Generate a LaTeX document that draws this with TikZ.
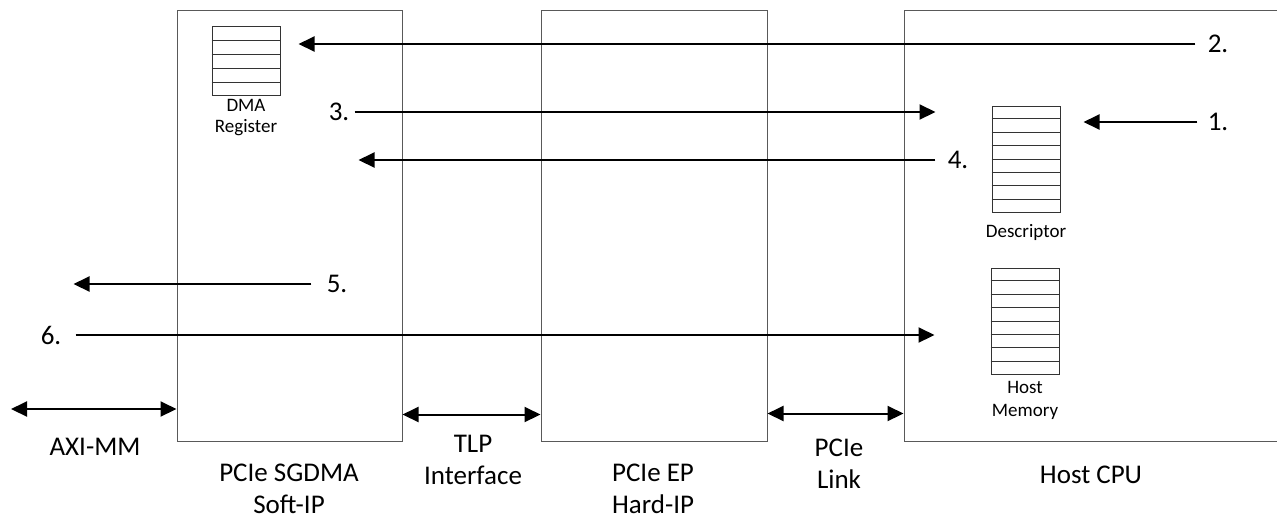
\documentclass[tikz,border=0pt]{standalone}
\usepackage{fontspec}
\setmainfont{Carlito}
\usetikzlibrary{positioning, arrows.meta, calc}

\begin{document}
\begin{tikzpicture}[x=0.5pt, y=-0.5pt,
    % blocks and register stacks
    unit/.style={rectangle, draw=black!65, line width=0.5pt, minimum height=215.5pt, inner sep=0},
    reg/.style={rectangle, draw=black!80, line width=0.5pt, minimum width=34pt, inner sep=0},
    row/.style={draw=black!80, line width=0.5pt},
    % texts
    small/.style={font=\fontsize{9.5}{10.5}\selectfont, align=center, inner sep=0},
    lbl/.style={font=\fontsize{13.5}{16}\selectfont, align=center, inner sep=0},
    num/.style={font=\fontsize{13.5}{14}\selectfont, inner sep=0},
    % arrows
    arr/.style={-{Triangle[length=8pt, width=7.5pt]}, line width=1pt},
    biarr/.style={{Triangle[length=8pt, width=7.5pt]}-{Triangle[length=8pt, width=7.5pt]}, line width=1pt},
]
\useasboundingbox (0,0) rectangle (1277,521);

% ===== blocks =====
\node[unit, minimum width=112.5pt] (sgdma) at (289.5,225.5) {};
\node[unit, minimum width=113pt]   (ep)    at (654,225.5) {};
\node[unit, minimum width=188pt]   (host)  at (1092,225.5) {};

% ===== register stacks =====
\node[reg, minimum height=34.5pt] (dmareg) at (246,61) {};
\foreach \i in {1,...,4}
  \draw[row] ($(dmareg.north west)!\i/5!(dmareg.south west)$) -- ($(dmareg.north east)!\i/5!(dmareg.south east)$);
\node[small] (dmareg_lbl) at (246,118) {DMA\\Register};

\node[reg, minimum height=53pt] (desc) at (1026,159) {};
\foreach \i in {1,...,7}
  \draw[row] ($(desc.north west)!\i/8!(desc.south west)$) -- ($(desc.north east)!\i/8!(desc.south east)$);
\node[small] (desc_lbl) at (1026,232) {Descriptor};

\node[reg, minimum height=53pt] (hmem) at (1025,321) {};
\foreach \i in {1,...,7}
  \draw[row] ($(hmem.north west)!\i/8!(hmem.south west)$) -- ($(hmem.north east)!\i/8!(hmem.south east)$);
\node[small, font=\fontsize{9.5}{11.5}\selectfont] (hmem_lbl) at (1025,400) {Host\\Memory};

% ===== step numbers =====
\node[num] (n1) at (1218,122) {1.};
\node[num] (n2) at (1218,44)  {2.};
\node[num] (n3) at (339,112)  {3.};
\node[num] (n4) at (958,160)  {4.};
\node[num] (n5) at (337,284)  {5.};
\node[num] (n6) at (51,335)   {6.};

\draw[arr] ([xshift=-5pt]n1.west) -- ($(n1 -| desc.east)+(11.5pt,0)$);
\draw[arr] ([xshift=-6pt]n2.west) -- ($(n2 -| dmareg.east)+(9pt,0)$);
\draw[arr] ([xshift=2.5pt]n3.east) -- ($(n3 -| host.west)+(16pt,0)$);
\draw[arr] ([xshift=-6pt]n4.west) -- ($(n4 -| sgdma.east)+(-22pt,0)$);
\draw[arr] ([xshift=-7.5pt]n5.west) -- ($(n5 -| sgdma.west)+(-51.5pt,0)$);
\draw[arr] ([xshift=7pt]n6.east) -- ($(n6 -| host.west)+(15.5pt,0)$);

% ===== interfaces =====
\coordinate (axi_end) at (11,409);
\draw[biarr] (axi_end) -- (axi_end -| sgdma.west);
\draw[biarr] ($(sgdma.south east)+(0,13.5pt)$) -- ($(ep.south west)+(0,13.5pt)$);
\draw[biarr] ($(ep.south east)+(0,14pt)$) -- ($(host.south west)+(0,14pt)$);

\node[lbl] (axi_lbl)   at (95,447)    {AXI-MM};
\node[lbl] (tlp_lbl)   at (473,459.5) {TLP\\Interface};
\node[lbl] (link_lbl)  at (839,464)   {PCIe\\Link};
\node[lbl] (sgdma_lbl) at (289,489)   {PCIe SGDMA\\Soft-IP};
\node[lbl] (ep_lbl)    at (653,489)   {PCIe EP\\Hard-IP};
\node[lbl] (host_lbl)  at (1091,475)  {Host CPU};

\end{tikzpicture}
\end{document}
